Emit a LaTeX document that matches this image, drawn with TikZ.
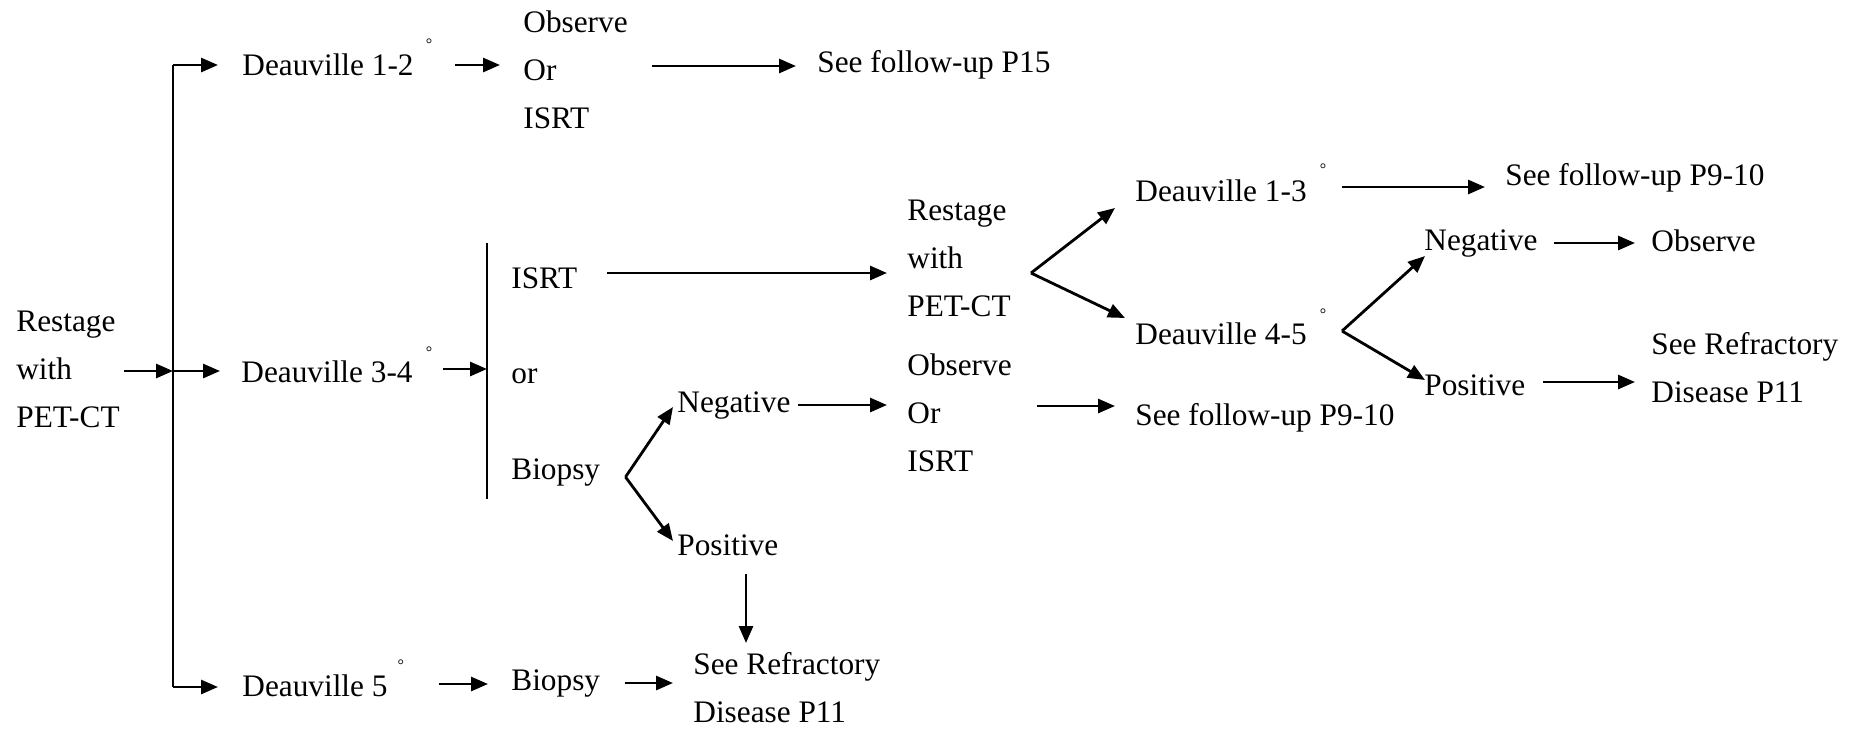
\documentclass[tikz,border=0pt]{standalone}
\usepackage{fontspec}
\setmainfont{Liberation Serif}
\usetikzlibrary{arrows.meta}
\begin{document}
\begin{tikzpicture}[x=0.5pt,y=-0.5pt,
  txt/.style={inner sep=0pt, anchor=base west, font=\fontsize{15.65pt}{24pt}\selectfont},
  blk/.style={txt, align=left},
  deg/.style={inner sep=0pt, anchor=base, font=\fontsize{8pt}{8pt}\selectfont},
  tip/.tip={Triangle[length=8.5pt,width=7pt]},
  arr/.style={line width=1.4pt, -tip},
  rule/.style={line width=1pt}]
\fill[white] (0,0) rectangle (1858,730);
\useasboundingbox (0,0) rectangle (1858,730);

% ---- text blocks (multi-line blocks sit on the baseline of their last line) ----
\node[blk] (rs0) at (16,427) {Restage\\with\\PET-CT};
\node[txt] (d12) at (242,75) {Deauville 1-2};
\node[blk] (obs1) at (523,128) {Observe\\Or\\ISRT};
\node[txt] (fu15) at (817,72) {See follow-up P15};
\node[txt] (d34) at (241,382) {Deauville 3-4};
\node[txt] (isrt) at (511,288) {ISRT};
\node[txt] (orn) at (511,383) {or};
\node[txt] (bio1) at (511,479) {Biopsy};
\node[txt] (neg1) at (677,412) {Negative};
\node[txt] (pos1) at (677,555) {Positive};
\node[blk] (rs2) at (907,316) {Restage\\with\\PET-CT};
\node[blk] (obs2) at (907,471) {Observe\\Or\\ISRT};
\node[txt] (fu910b) at (1135,425) {See follow-up P9-10};
\node[txt] (d13) at (1135,201) {Deauville 1-3};
\node[txt] (d45) at (1135,344) {Deauville 4-5};
\node[txt] (fu910a) at (1505,185) {See follow-up P9-10};
\node[txt] (neg2) at (1424,250) {Negative};
\node[txt] (pos2) at (1424,395) {Positive};
\node[txt] (obs3) at (1651,251) {Observe};
\node[blk] (ref2) at (1651,402) {See Refractory\\Disease P11};
\node[txt] (d5) at (242,696) {Deauville 5};
\node[txt] (bio2) at (511,690) {Biopsy};
\node[blk] (ref1) at (693,722) {See Refractory\\Disease P11};

% ---- degree marks ----
\node[deg] (g12) at ([shift={(15,-26)}]d12.base east) {°};
\node[deg] (g34) at ([shift={(16,-25)}]d34.base east) {°};
\node[deg] (g13) at ([shift={(16,-27)}]d13.base east) {°};
\node[deg] (g45) at ([shift={(16,-25)}]d45.base east) {°};
\node[deg] (g5) at ([shift={(13,-26)}]d5.base east) {°};

% ---- junction points ----
\coordinate (jtop) at ([shift={(-69,-10)}]d12.base west);
\coordinate (jmid) at ([shift={(-68,-11)}]d34.base west);
\coordinate (jbot) at ([shift={(-69,-9)}]d5.base west);
\coordinate (bart) at ([shift={(-24,-45)}]isrt.base west);
\coordinate (barb) at ([shift={(-24,211)}]isrt.base west);
\coordinate (d34out) at ([shift={(30,-13)}]d34.base east);
\coordinate (fkb) at ([shift={(25,-2)}]bio1.base east);
\coordinate (fkr) at ([shift={(124,-43)}]rs2.base west);
\coordinate (fkd) at ([shift={(35,-13)}]d45.base east);

% ---- trunk and branches ----
\draw[rule] (jtop) -- (jbot);
\draw[arr] (jtop) -- ([shift={(-24,-10)}]d12.base west);
\draw[arr] (jmid) -- ([shift={(-21,-11)}]d34.base west);
\draw[arr] (jbot) -- ([shift={(-24,-9)}]d5.base west);
\draw[arr] ([shift={(108,-56)}]rs0.base west) -- (jmid);

% ---- upper row ----
\draw[arr] ([shift={(41,-10)}]d12.base east) -- ([shift={(-23,-63)}]obs1.base west);
\draw[arr] ([shift={(129,-62)}]obs1.base west) -- ([shift={(-21,-6)}]fu15.base west);

% ---- choice bar ----
\draw[rule] (bart) -- (barb);
\draw[arr] (d34out) -- (bart |- d34out);
\draw[arr] ([shift={(29,-15)}]isrt.base east) -- ([shift={(-20,-43)}]rs2.base west);

% ---- biopsy fork ----
\draw[arr] (fkb) -- ([shift={(-4,-5)}]neg1.base west);
\draw[arr] (fkb) -- ([shift={(-4,-14)}]pos1.base west);
\draw[arr] ([shift={(7,-7)}]neg1.base east) -- ([shift={(-20,-66)}]obs2.base west);
\draw[arr] ([shift={(69,19)}]pos1.base west) -- ([shift={(53,-79)}]ref1.base west);

% ---- restage fork ----
\draw[arr] (fkr) -- ([shift={(-20,7)}]d13.base west);
\draw[arr] (fkr) -- ([shift={(-10,-26)}]d45.base west);
\draw[arr] ([shift={(130,-65)}]obs2.base west) -- ([shift={(-20,-19)}]fu910b.base west);
\draw[arr] ([shift={(35,-14)}]d13.base east) -- ([shift={(-20,2)}]fu910a.base west);

% ---- Deauville 4-5 fork ----
\draw[arr] (fkd) -- ([shift={(1,6)}]neg2.base west);
\draw[arr] (fkd) -- ([shift={(1,-15)}]pos2.base west);
\draw[arr] ([shift={(16,-7)}]neg2.base east) -- ([shift={(-16,-8)}]obs3.base west);
\draw[arr] ([shift={(17,-13)}]pos2.base east) -- ([shift={(-16,-20)}]ref2.base west);

% ---- bottom row ----
\draw[arr] ([shift={(51,-12)}]d5.base east) -- ([shift={(-23,-6)}]bio2.base west);
\draw[arr] ([shift={(24,-7)}]bio2.base east) -- ([shift={(-20,-39)}]ref1.base west);
\end{tikzpicture}
\end{document}
